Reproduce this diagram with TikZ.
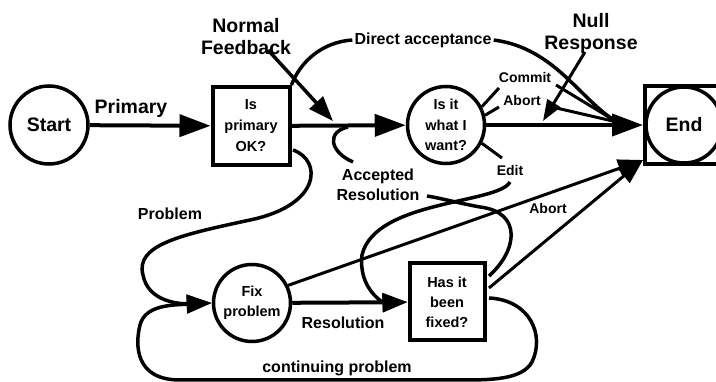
\documentclass[tikz,border=0pt]{standalone}
\usepackage{fontspec}
\setmainfont{Liberation Sans}
\usetikzlibrary{arrows.meta}
\begin{document}
\begin{tikzpicture}[x=1pt,y=-1pt,
  circnode/.style={circle,draw,line width=3.5pt,minimum size=77pt,inner sep=0pt,align=center,font=\fontsize{14.5}{20.5}\selectfont\bfseries},
  boxnode/.style={rectangle,draw,line width=4pt,minimum width=77pt,minimum height=78pt,inner sep=0pt,align=center,font=\fontsize{14.5}{21}\selectfont\bfseries},
  biglabel/.style={font=\fontsize{19.5}{22}\selectfont\bfseries,align=center,inner sep=2pt},
  midlabel/.style={font=\fontsize{16}{20}\selectfont\bfseries,align=center,inner sep=2pt},
  smalllabel/.style={font=\fontsize{14}{16}\selectfont\bfseries,inner sep=2pt},
  flow/.style={line width=4pt},
  curve/.style={line width=3.5pt},
  thinline/.style={line width=3pt},
  bigtip/.style={-{Triangle[length=31pt,width=22pt]}},
  midtip/.style={-{Triangle[length=25pt,width=18pt]}},
  smalltip/.style={-{Triangle[length=21pt,width=15pt]}},
]
\useasboundingbox (0,0) rectangle (716,382);
\clip (0,0) rectangle (716,382);

% nodes
\node[circnode,minimum size=78pt,font=\fontsize{19.5}{22}\selectfont\bfseries] (start) at (49,125) {Start};
\node[boxnode] (box1) at (251,126) {Is\\primary\\OK?};
\node[circnode] (want) at (446,125) {Is it\\what I\\want?};
\node[rectangle,draw,line width=4pt,minimum width=78pt,minimum height=78pt,inner sep=0pt] (endbox) at (684,125) {};
\node[circnode,minimum size=76pt,font=\fontsize{19.5}{22}\selectfont\bfseries] (endc) at (684,125) {End};
\node[circnode] (fix) at (252,303) {Fix\\problem};
\node[boxnode,minimum width=75pt,minimum height=77pt,font=\fontsize{14.5}{20}\selectfont\bfseries] (box2) at (447,302) {Has it\\been\\fixed?};

% labels
\node[biglabel] (primary) at (131,108) {Primary};
\node[biglabel] (nf) at (246,37) {Normal\\Feedback};
\node[midlabel] (da) at (423,40) {Direct acceptance};
\node[biglabel] (nr) at (591,33) {Null\\Response};
\node[smalllabel] (commit) at (525,77) {Commit};
\node[smalllabel] (abort1) at (522,100) {Abort};
\node[smalllabel] (edit) at (510,170) {Edit};
\node[midlabel] (ar) at (378,185) {Accepted\\Resolution};
\node[midlabel] (problem) at (170,214) {Problem};
\node[midlabel] (resol) at (343,323) {Resolution};
\node[midlabel] (cont) at (337,368) {continuing problem};
\node[smalllabel] (abort2) at (548,208) {Abort};

% coordinates
\coordinate (conv) at (617,122);
\coordinate (nfa) at (268,50);
\coordinate (nfb) at (333,121);
\coordinate (nra) at (585,52);
\coordinate (nrb) at (543,121);
\coordinate (cma) at (499,88);
\coordinate (cmb) at (556,85);
\coordinate (aba) at (499,107);
\coordinate (abb) at (552,107);
\coordinate (eda) at (502,158);
\coordinate (edb) at (510,182);
\coordinate (hookb) at (353,162);
\coordinate (hookt) at (348,127);
\coordinate (are) at (427,196);
\coordinate (b1r) at (293,150);
\coordinate (b2r1) at (489,276);
\coordinate (b2r2) at (489,298);
\coordinate (b2r3) at (489,288);
\coordinate (endll) at (643,160);

% main flow
\draw[flow,bigtip] (start) -- (box1);
\draw[flow,bigtip] (box1) -- (want);
\draw[flow,bigtip] (want) -- (endbox);

% normal feedback
\draw[curve,midtip] (nfa) -- (nfb);
% direct acceptance
\draw[curve] (box1.north east) .. controls (300,62) and (322,42) .. (da.west);
\draw[curve] (da.east) .. controls (555,48) and (580,100) .. (conv);
% null response
\draw[thinline,smalltip] (nra) -- (nrb);
% commit / abort
\draw[thinline] (want.27) -- (cma);
\draw[thinline] (cmb) -- (conv);
\draw[thinline] (want.14) -- (aba);
\draw[thinline] (abb) -- (conv);
% edit
\draw[thinline] (want.-27) -- (eda);
\draw[curve,midtip] (edb) .. controls (498,204) and (375,200) .. (362,255) .. controls (358,290) and (385,303) .. (box2.west);
% accepted resolution
\draw[curve] (hookb) .. controls (330,152) and (326,132) .. (hookt);
\draw[curve] (b2r1) .. controls (518,250) and (522,212) .. (480,207) .. controls (458,203) and (440,198) .. (are);
% problem
\draw[curve,midtip] (b1r) .. controls (322,160) and (322,205) .. (250,220) .. controls (180,235) and (135,245) .. (143,275) .. controls (148,302) and (180,304) .. (fix.west);
% resolution
\draw[flow,midtip] (fix) -- (box2);
% continuing problem
\draw[curve,midtip] (b2r2) .. controls (530,300) and (545,335) .. (532,362) .. controls (522,380) and (490,380) .. (460,380) -- (180,380) .. controls (135,380) and (135,345) .. (140,325) .. controls (145,305) and (172,305) .. (fix.west);
% aborts to end
\draw[thinline,midtip] (fix.26) -- (endll);
\draw[thinline,midtip] (b2r3) -- (endll);
\end{tikzpicture}
\end{document}
